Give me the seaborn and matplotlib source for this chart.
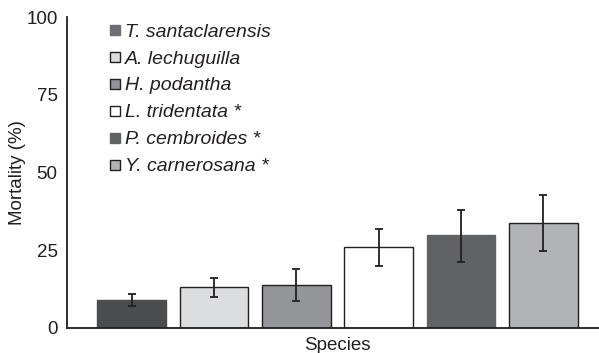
import matplotlib
matplotlib.use("Agg")
import matplotlib.pyplot as plt
from matplotlib.lines import Line2D
import seaborn as sns
import numpy as np

species = ["T. santaclarensis", "A. lechuguilla", "H. podantha",
           "L. tridentata *", "P. cembroides *", "Y. carnerosana *"]
mortality = [8.9, 13.0, 13.7, 26.0, 29.8, 33.7]
err_upper = [10.9, 15.9, 18.8, 31.9, 37.9, 42.7]
err_lower = [6.9, 10.0, 8.6, 20.0, 21.1, 24.8]
yticks = [0, 25, 50, 75, 100]

bar_colors = ["#4b4c4e", "#dcdddf", "#949598", "#ffffff", "#616264", "#b2b3b6"]
bar_edges = ["#4b4c4e", "#231f20", "#231f20", "#231f20", "#616264", "#231f20"]
legend_colors = ["#6d6e71", "#dcdddf", "#949598", "#ffffff", "#616264", "#b2b3b6"]
legend_edges = ["#6d6e71", "#231f20", "#231f20", "#231f20", "#616264", "#231f20"]

sns.set_style("white")
plt.rcParams["font.family"] = ["Liberation Sans", "DejaVu Sans"]

fig = plt.figure(figsize=(5.99, 3.53), dpi=100)
ax = fig.add_axes([0.1124, 0.0717, 1.0 - 0.1124, 0.9518 - 0.0717])

sns.barplot(x=species, y=mortality, hue=species, palette=bar_colors,
            legend=False, width=0.833, errorbar=None, saturation=1,
            linewidth=1.0, ax=ax)
for p, ec in zip(ax.patches, bar_edges):
    p.set_edgecolor(ec)

xpos = np.arange(len(species))
m = np.array(mortality)
yerr = np.vstack([m - np.array(err_lower), np.array(err_upper) - m])
ax.errorbar(xpos, m, yerr=yerr, fmt="none", ecolor="#231f20",
            elinewidth=1.3, capsize=3.2, capthick=1.3)

ax.set_xlim(-0.779, 5.674)
ax.set_ylim(0, 100)
ax.set_yticks(yticks)
ax.set_xticks([])
ax.tick_params(axis="y", direction="in", length=4, width=1.0,
               color="#231f20", labelsize=13.5, pad=7, labelcolor="#231f20")
for s in ["top", "right"]:
    ax.spines[s].set_visible(False)
for s in ["left", "bottom"]:
    ax.spines[s].set_color("#231f20")
    ax.spines[s].set_linewidth(1.3)

ax.set_ylabel("Mortality (%)", fontsize=13.5, color="#231f20", labelpad=0)
ax.set_xlabel("Species", fontsize=13.5, color="#231f20")
ax.xaxis.set_label_coords(0.508, -0.03)

handles = [Line2D([], [], marker="s", linestyle="none", markersize=6.5,
                  markerfacecolor=fc, markeredgecolor=ec, markeredgewidth=1.0)
           for fc, ec in zip(legend_colors, legend_edges)]
leg = ax.legend(handles, species, loc="upper left",
                bbox_to_anchor=(109 / 599, 1 - 23 / 353),
                bbox_transform=fig.transFigure, frameon=False,
                prop={"style": "italic", "size": 14},
                handlelength=0.6, handletextpad=0.2, labelspacing=0.48,
                borderaxespad=0, borderpad=0)
for t in leg.get_texts():
    t.set_color("#231f20")

fig.savefig("out.png", dpi=100)
